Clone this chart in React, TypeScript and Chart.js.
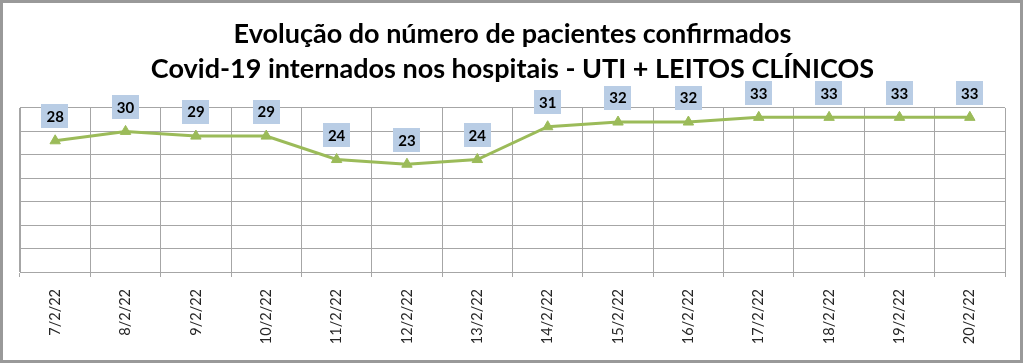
import React, { useEffect, useRef } from "react";
import { Chart, registerables } from "chart.js";

Chart.register(...registerables);

const categories = [
  "7/2/22", "8/2/22", "9/2/22", "10/2/22", "11/2/22", "12/2/22", "13/2/22",
  "14/2/22", "15/2/22", "16/2/22", "17/2/22", "18/2/22", "19/2/22", "20/2/22",
];
const patients = [28, 30, 29, 29, 24, 23, 24, 31, 32, 32, 33, 33, 33, 33];
const titleLines = [
  "Evolução do número de pacientes confirmados",
  "Covid-19 internados nos hospitais - UTI + LEITOS CLÍNICOS",
];
const yMin = 0;
const yMax = 35;
const yStep = 5;

const GREEN = "#9BBB59";
const LABEL_BG = "#B9CDE5";
const GRID = "#A6A6A6";

const framePlugin = {
  id: "frame",
  beforeDraw(chart: any) {
    const { ctx, width, height } = chart;
    ctx.save();
    ctx.fillStyle = "#ffffff";
    ctx.fillRect(0, 0, width, height);
    ctx.restore();
  },
  afterDraw(chart: any) {
    const { ctx, width, height } = chart;
    ctx.save();
    ctx.strokeStyle = "#999999";
    ctx.lineWidth = 3;
    ctx.strokeRect(1.5, 1.5, width - 4, height - 4);
    ctx.restore();
  },
};

const dataLabelPlugin = {
  id: "boxLabels",
  afterDatasetsDraw(chart: any) {
    const { ctx } = chart;
    const meta = chart.getDatasetMeta(0);
    const values = chart.data.datasets[0].data as number[];
    ctx.save();
    ctx.font = "bold 15px Lato";
    ctx.textAlign = "center";
    ctx.textBaseline = "middle";
    meta.data.forEach((pt: any, i: number) => {
      const txt = String(values[i]);
      const w = ctx.measureText(txt).width + 10;
      const h = 24;
      const cx = pt.x;
      const cy = pt.y - 24.5;
      ctx.fillStyle = LABEL_BG;
      ctx.fillRect(Math.round(cx - w / 2), Math.round(cy - h / 2), Math.round(w), h);
      ctx.fillStyle = "#000000";
      ctx.fillText(txt, cx, cy + 1);
    });
    ctx.restore();
  },
};

export default function App() {
  const canvasRef = useRef<HTMLCanvasElement | null>(null);

  useEffect(() => {
    if (!canvasRef.current) return;
    const chart = new Chart(canvasRef.current, {
      type: "line",
      data: {
        labels: categories,
        datasets: [
          {
            data: patients,
            borderColor: GREEN,
            backgroundColor: GREEN,
            borderWidth: 3,
            pointStyle: "triangle",
            pointRadius: 6,
            pointBorderWidth: 1,
            pointBackgroundColor: GREEN,
            pointBorderColor: GREEN,
            tension: 0,
            fill: false,
          },
        ],
      },
      options: {
        responsive: false,
        animation: false,
        layout: { padding: { left: 20, right: 19, top: 7, bottom: 2 } },
        plugins: {
          legend: { display: false },
          tooltip: { enabled: false },
          title: {
            display: true,
            text: titleLines,
            color: "#000000",
            font: { family: "Lato", size: 27, weight: "bold", lineHeight: 1.296 },
            padding: { top: 10, bottom: 21 },
          },
        },
        scales: {
          x: {
            type: "category",
            offset: true,
            afterFit: (scale: any) => {
              scale.height = 90;
            },
            grid: {
              offset: true,
              color: GRID,
              lineWidth: 1,
              drawTicks: true,
              tickLength: 5,
            },
            border: { color: GRID, width: 1 },
            ticks: {
              minRotation: 90,
              maxRotation: 90,
              padding: 12,
              color: "#262626",
              font: { family: "Lato", size: 14.5 },
              autoSkip: false,
            },
          },
          y: {
            min: yMin,
            max: yMax,
            ticks: { display: false, stepSize: yStep },
            grid: { color: GRID, lineWidth: 1, drawTicks: false },
            border: { color: GRID, width: 1 },
          },
        },
      },
      plugins: [framePlugin, dataLabelPlugin],
    });
    return () => chart.destroy();
  }, []);

  return (
    <div style={{ position: "absolute", left: 0, top: 0, width: 1024, height: 364 }}>
      <canvas ref={canvasRef} width={1024} height={364} />
    </div>
  );
}
